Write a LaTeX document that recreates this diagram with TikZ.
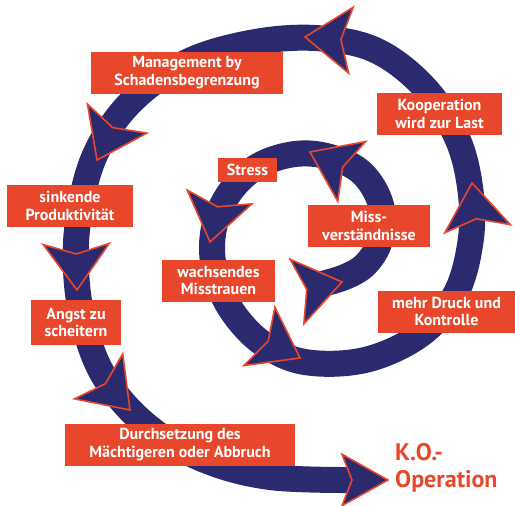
\documentclass[tikz,border=0pt]{standalone}
\usepackage{fontspec}
\setmainfont{PT Sans}
\definecolor{spiralblue}{HTML}{2B2A6E}
\definecolor{boxred}{HTML}{E8472B}
\tikzset{
  pics/spiralhead/.style={code={
    \filldraw[fill=spiralblue, draw=boxred, line width=1.6pt, line join=miter]
      (0,0) -- (-46,33) -- (-36,0) -- (-46,-33) -- cycle;}}
}
\begin{document}
\begin{tikzpicture}[x=1pt,y=1pt]
        \useasboundingbox (0,0) rectangle (515,-506);

        \draw[spiralblue, line width=26pt] plot[smooth, tension=0.6] coordinates {
          (318,-285) (345,-277) (366,-264) (380,-240) (381,-205) (362,-173)
          (330,-157) (295,-154) (258,-166) (230,-192) (214,-228) (214,-268)
          (230,-308) (262,-343) (305,-362) (365,-360) (420,-335) (455,-295)
          (470,-245) (471,-195) (458,-140) (425,-88) (375,-50) (315,-38)
          (250,-43) (185,-63) (130,-103) (95,-155) (79,-215) (76,-270)
          (84,-325) (105,-378) (145,-424) (200,-458) (270,-477) (365,-480)};

        \path pic[rotate=12]  at (342,-282) {spiralhead};
        \path pic[rotate=155] at (310,-152) {spiralhead};
        \path pic[rotate=258] at (210,-242) {spiralhead};
        \path pic[rotate=-28] at (300,-358) {spiralhead};
        \path pic[rotate=97]  at (472,-183) {spiralhead};
        \path pic[rotate=176] at (305,-37)  {spiralhead};
        \path pic[rotate=244] at (97,-160)  {spiralhead};
        \path pic[rotate=271] at (77,-290)  {spiralhead};
        \path pic[rotate=-47] at (130,-410) {spiralhead};
        \path pic[yscale=.78] at (388,-480) {spiralhead};

        \begin{scope}[every node/.style={fill=boxred, text=white, align=center, inner sep=0pt,
            font=\bfseries\fontsize{16}{17.5}\selectfont, minimum height=42pt}]
          \node[minimum width=122pt] (1) at (369,-226)   {Miss-\\verständnisse};
          \node[minimum width=59pt, minimum height=24pt] (2) at (247.5,-170) {Stress};
          \node[minimum width=113pt] (3) at (218.5,-280.5) {wachsendes\\Misstrauen};
          \node[minimum width=137pt] (4) at (446.5,-311.5) {mehr Druck und\\Kontrolle};
          \node[minimum width=125pt] (5) at (439.5,-114) {Kooperation\\wird zur Last};
          \node[minimum width=192pt] (6) at (187,-72.5)  {Management by\\Schadensbegrenzung};
          \node[minimum width=126pt] (7) at (70,-206)    {sinkende\\Produktivität};
          \node[minimum width=90pt, minimum height=45pt] (8) at (76,-322.5) {Angst zu\\scheitern};
          \node[minimum width=230pt] (9) at (180,-444.5) {Durchsetzung des\\Mächtigeren oder Abbruch};
        \end{scope}

        \node[anchor=north west, inner sep=0pt, align=left, text=boxred,
          font=\bfseries\fontsize{24}{27}\selectfont] (10) at (395,-443) {K.O.-\\Operation};

      \end{tikzpicture}
\end{document}
